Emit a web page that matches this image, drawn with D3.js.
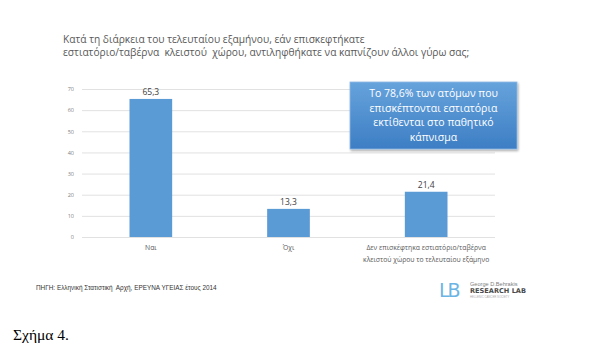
<!DOCTYPE html>
<html><head><meta charset="utf-8">
<script src="https://cdn.jsdelivr.net/npm/d3@7"></script>
<style>
html,body{margin:0;padding:0;background:#fff;}
svg{display:block;font-family:"Open Sans","Noto Sans",sans-serif;}
text{white-space:pre;}
</style></head>
<body>
<svg id="c" width="600" height="363"></svg>
<script>
const titleLines = ["Κατά τη διάρκεια του τελευταίου εξαμήνου, εάν επισκεφτήκατε",
                    "εστιατόριο/ταβέρνα  κλειστού  χώρου, αντιληφθήκατε να καπνίζουν άλλοι γύρω σας;"];
const categories = ["Ναι", "Όχι", "Δεν επισκέφτηκα εστιατόριο/ταβέρνα\nκλειστού χώρου το τελευταίου εξάμηνο"];
const values = [65.3, 13.3, 21.4];
const valueLabels = ["65,3", "13,3", "21,4"];
const yTicks = [0, 10, 20, 30, 40, 50, 60, 70];
const calloutLines = ["Το 78,6% των ατόμων που", "επισκέπτονται εστιατόρια", "εκτίθενται στο παθητικό", "κάπνισμα"];
const sourceText = "ΠΗΓΗ: Ελληνική Στατιστική  Αρχή, ΕΡΕΥΝΑ ΥΓΕΙΑΣ έτους 2014";
const figureCaption = "Σχήμα 4.";

(function() {
const svg = d3.select("#c");
const pL = 82, pR = 495, pT = 89, pB = 237;

const x = d3.scaleBand().domain(categories).range([pL, pR]).paddingInner(0.69).paddingOuter(0.345);
const y = d3.scaleLinear().domain([0, 70]).range([pB, pT]);

// title
const tt = svg.append("text").attr("fill", "#595959").attr("font-size", 10.2);
titleLines.forEach((l, i) => tt.append("tspan").attr("x", 63).attr("y", 43 + i * 12.5).text(l));

// grid + y axis
const yAxis = d3.axisLeft(y).tickValues(yTicks).tickSize(-(pR - pL)).tickPadding(8);
const ga = svg.append("g").attr("transform", `translate(${pL},0)`).call(yAxis);
ga.select(".domain").remove();
ga.selectAll(".tick line").attr("stroke", "#d9d9d9").attr("stroke-width", 0.8);
ga.selectAll(".tick text").attr("fill", "#7f7f7f").attr("font-size", 5.5).style("font-family", "Open Sans, sans-serif");

// bars
svg.selectAll("rect.bar").data(values).join("rect").attr("class", "bar")
  .attr("x", (d, i) => x(categories[i])).attr("width", x.bandwidth())
  .attr("y", d => y(d)).attr("height", d => y(0) - y(d))
  .attr("fill", "#5b9bd5");

svg.selectAll("text.val").data(values).join("text").attr("class", "val")
  .attr("x", (d, i) => x(categories[i]) + x.bandwidth() / 2)
  .attr("y", d => y(d) - 4).attr("text-anchor", "middle")
  .attr("fill", "#404040").attr("font-size", 8.5)
  .text((d, i) => valueLabels[i]);

// x labels
const xl = svg.selectAll("text.xl").data(categories).join("text").attr("class", "xl")
  .attr("text-anchor", "middle").attr("fill", "#595959").attr("font-size", 6.8);
xl.each(function(d) {
  const lines = d.split("\n");
  const cx = x(d) + x.bandwidth() / 2;
  lines.forEach((l, i) => d3.select(this).append("tspan").attr("x", cx).attr("y", pB + 13 + i * 12).text(l));
});

// callout
const defs = svg.append("defs");
const gr = defs.append("linearGradient").attr("id", "cg").attr("x1", 0).attr("y1", 0).attr("x2", 0).attr("y2", 1);
gr.append("stop").attr("offset", "0%").attr("stop-color", "#66a3dc");
gr.append("stop").attr("offset", "100%").attr("stop-color", "#3d7ec4");
const fl = defs.append("filter").attr("id", "sh").attr("x", "-10%").attr("y", "-10%").attr("width", "130%").attr("height", "130%");
fl.append("feDropShadow").attr("dx", 1).attr("dy", 1.5).attr("stdDeviation", 1.2).attr("flood-color", "#000").attr("flood-opacity", 0.35);
svg.append("rect").attr("x", 350).attr("y", 82).attr("width", 167).attr("height", 67)
  .attr("fill", "url(#cg)").attr("stroke", "#8fb9e3").attr("stroke-width", 0.8).attr("filter", "url(#sh)");
const ct = svg.append("text").attr("text-anchor", "middle").attr("fill", "#fff").attr("font-size", 10.5);
calloutLines.forEach((l, i) => ct.append("tspan").attr("x", 433.5).attr("y", 97 + i * 14.6).text(l));

// source
svg.append("text").attr("x", 36).attr("y", 290).attr("font-size", 6.4).attr("fill", "#333")
  .style("font-family", "Liberation Sans, sans-serif").text(sourceText);

// logo
const lg = svg.append("g");
lg.append("text").attr("x", 439).attr("y", 297).attr("font-size", 19).attr("fill", "#6cb4e4")
  .style("font-family", "DejaVu Sans, sans-serif").attr("letter-spacing", -2).text("LB");
lg.append("text").attr("x", 470).attr("y", 286).attr("font-size", 5.6).attr("fill", "#808080")
  .style("font-family", "Liberation Sans, sans-serif").text("George D.Behrakis");
lg.append("text").attr("x", 470).attr("y", 293).attr("font-size", 6.6).attr("font-weight", "bold").attr("fill", "#4a4a4a")
  .style("font-family", "DejaVu Sans, sans-serif").text("RESEARCH LAB");
lg.append("text").attr("x", 470).attr("y", 297.5).attr("font-size", 2.8).attr("fill", "#aaa")
  .style("font-family", "Liberation Sans, sans-serif").text("HELLENIC CANCER SOCIETY");

// caption
svg.append("text").attr("x", 13).attr("y", 340).attr("font-size", 15.5).attr("fill", "#000")
  .style("font-family", "'Liberation Serif', 'DejaVu Serif', serif").text(figureCaption);
})();
</script>
</body></html>
